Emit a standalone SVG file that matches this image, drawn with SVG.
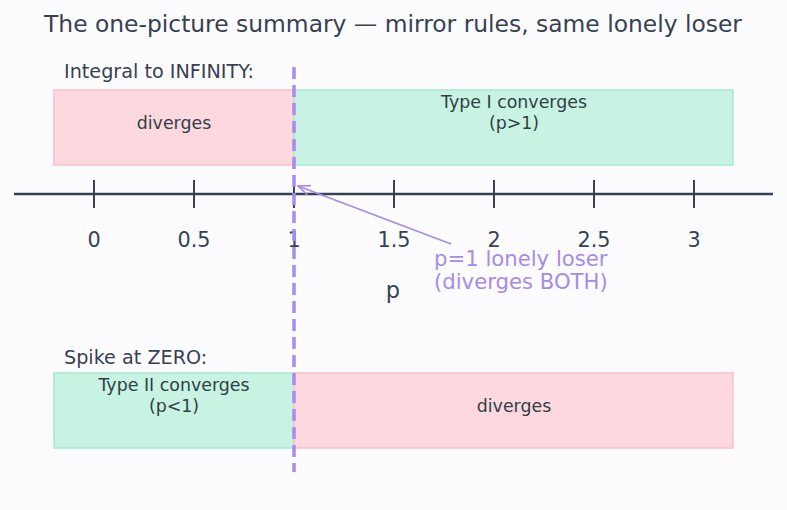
<svg xmlns="http://www.w3.org/2000/svg" width="787" height="510" viewBox="0 0 787 510">
<defs>
<style>
text{font-family:"DejaVu Sans","Noto Sans",sans-serif;fill:#374151}
.title{font-size:23.4px;text-anchor:middle}
.sec{font-size:19.2px}
.box{font-size:17.4px;text-anchor:middle;fill:#2f3e46}
.tick{font-size:20.8px;text-anchor:middle}
.ann{font-size:21.2px;fill:#a78bea}
.pink{fill:#fdd8df;stroke:#fbbfca;stroke-width:1.5}
.green{fill:#c8f3e2;stroke:#a6ead0;stroke-width:1.5}
.tk{stroke:#374151;stroke-width:2}
</style>
<marker id="ah" markerWidth="14" markerHeight="12" refX="13" refY="6" orient="auto" markerUnits="userSpaceOnUse">
<path d="M1,1 L13,6 L1,11" fill="none" stroke="#a78bea" stroke-width="1.6"/>
</marker>
</defs>
<rect width="787" height="510" fill="#fcfcff"/>
<text class="title" x="393" y="32">The one-picture summary — mirror rules, same lonely loser</text>
<g id="infinity">
<text class="sec" x="64" y="78">Integral to INFINITY:</text>
<rect class="pink" x="54" y="90" width="240" height="75"/>
<rect class="green" x="294" y="90" width="439" height="75"/>
<text class="box" x="174" y="129">diverges</text>
<text class="box" x="514" y="108">Type I converges</text>
<text class="box" x="514" y="129">(p&gt;1)</text>
</g>
<g id="zero">
<text class="sec" x="64" y="364">Spike at ZERO:</text>
<rect class="green" x="54" y="373" width="240" height="75"/>
<rect class="pink" x="294" y="373" width="439" height="75"/>
<text class="box" x="174" y="391">Type II converges</text>
<text class="box" x="174" y="412">(p&lt;1)</text>
<text class="box" x="514" y="412">diverges</text>
</g>
<g id="axis">
<line x1="14" y1="194" x2="773" y2="194" stroke="#374151" stroke-width="2.5"/>
<line class="tk" x1="94" y1="180" x2="94" y2="208"/>
<line class="tk" x1="194" y1="180" x2="194" y2="208"/>
<line class="tk" x1="294" y1="180" x2="294" y2="208"/>
<line class="tk" x1="394" y1="180" x2="394" y2="208"/>
<line class="tk" x1="494" y1="180" x2="494" y2="208"/>
<line class="tk" x1="594" y1="180" x2="594" y2="208"/>
<line class="tk" x1="694" y1="180" x2="694" y2="208"/>
<text class="tick" x="94" y="247">0</text>
<text class="tick" x="194" y="247">0.5</text>
<text class="tick" x="294" y="247">1</text>
<text class="tick" x="394" y="247">1.5</text>
<text class="tick" x="494" y="247">2</text>
<text class="tick" x="594" y="247">2.5</text>
<text class="tick" x="694" y="247">3</text>
<text class="tick" x="393" y="298" style="font-size:22.5px">p</text>
</g>
<g id="connectors">
<line x1="294" y1="67" x2="294" y2="472" stroke="#a78bf0" stroke-width="3.5" stroke-dasharray="12,6"/>
<line x1="451" y1="244" x2="298" y2="186" stroke="#a78bea" stroke-width="1.8" marker-end="url(#ah)"/>
</g>
<g id="annotation">
<text class="ann" x="434" y="266">p=1 lonely loser</text>
<text class="ann" x="434" y="289">(diverges BOTH)</text>
</g>
</svg>
